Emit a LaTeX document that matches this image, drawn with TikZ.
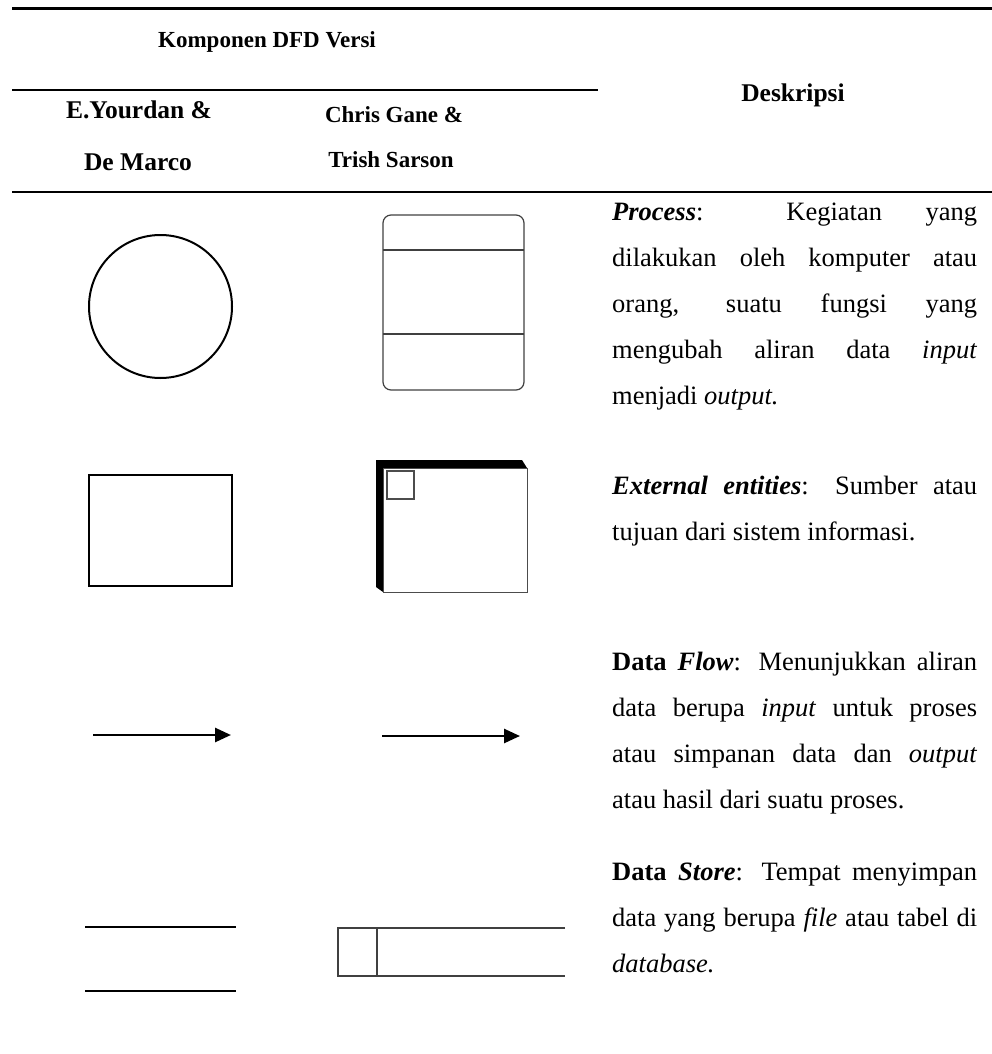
\documentclass[tikz,border=0pt]{standalone}
\usepackage{fontspec}
\setmainfont{Liberation Serif}
\usetikzlibrary{arrows.meta}

% a fully justified description line
\newcommand\jline[1]{\makebox[365pt][s]{#1}}

\begin{document}
\begin{tikzpicture}[x=1pt,y=-1pt,
  rule/.style={line width=2.4pt},
  hdrsmall/.style={font=\fontsize{23}{28}\selectfont\bfseries, anchor=base, inner sep=0},
  hdrbig/.style={font=\fontsize{25.5}{30}\selectfont\bfseries, anchor=base, inner sep=0},
  desc/.style={font=\fontsize{26.5}{30}\selectfont, anchor=base west, inner sep=0},
  thick symbol/.style={line width=2pt, draw=black},
  thin symbol/.style={line width=1.2pt, draw=black!75},
  flow/.style={line width=2.6pt, -{Triangle[length=16pt,width=14pt]}}
]
\useasboundingbox (0,0) rectangle (992,1054);

% ---- table rules
\coordinate (r1a) at (12,8.5);  \coordinate (r1b) at (992,8.5);
\coordinate (r2a) at (12,90);   \coordinate (r2b) at (598,90);
\coordinate (r3a) at (12,192);  \coordinate (r3b) at (992,192);
\draw[rule] (r1a) -- (r1b);
\draw[rule] (r2a) -- (r2b);
\draw[rule] (r3a) -- (r3b);

% ---- header
\node[hdrsmall] (komp) at (267,48) {Komponen DFD Versi};
\node[hdrbig] (yd1) at (139,118) {E.Yourdan \&};
\node[hdrbig] (yd2) at (138,170) {De Marco};
\node[hdrsmall] (gs1) at (394,122) {Chris Gane \&};
\node[hdrsmall] (gs2) at (391,167) {Trish Sarson};
\node[hdrbig] (desk) at (793,102) {Deskripsi};

% ---- process symbols
\draw[thick symbol] (160.5,306.5) circle[radius=71.5];
\draw[thin symbol, rounded corners=8pt] (383,215) rectangle (524,390);
\draw[thin symbol] (383,250) -- (524,250);
\draw[thin symbol] (383,334) -- (524,334);

% ---- external entity symbols
\draw[thick symbol] (89,475) rectangle (232,586);
\fill[black] (376,460) -- (522,460) -- (527,468) -- (383,468) -- (383,592) -- (376,587) -- cycle;
\draw[line width=1pt, draw=black!70] (383,468) rectangle (527,592);
\draw[line width=1.2pt, draw=black!70] (387,471) rectangle (414,499);

% ---- data flow symbols
\coordinate (fa1) at (93,735);  \coordinate (fa2) at (231,735);
\coordinate (fb1) at (382,736); \coordinate (fb2) at (520,736);
\draw[flow] (fa1) -- (fa2);
\draw[flow] (fb1) -- (fb2);

% ---- data store symbols
\draw[thick symbol] (85,927) -- (236,927);
\draw[thick symbol] (85,991) -- (236,991);
\draw[thin symbol] (565,928) -- (338,928) -- (338,976) -- (565,976);
\draw[thin symbol] (377,928) -- (377,976);

% ---- descriptions
\node[desc] (p1) at (612,220) {\jline{\textbf{\textit{Process}}: Kegiatan yang}};
\node[desc] (p2) at (612,266) {\jline{dilakukan oleh komputer atau}};
\node[desc] (p3) at (612,312) {\jline{orang, suatu fungsi yang}};
\node[desc] (p4) at (612,358) {\jline{mengubah aliran data \textit{input}}};
\node[desc] (p5) at (612,404) {menjadi \textit{output.}};

\node[desc] (e1) at (612,494) {\jline{\textbf{\textit{External entities}}: Sumber atau}};
\node[desc] (e2) at (612,540) {tujuan dari sistem informasi.};

\node[desc] (f1) at (612,670) {\jline{\textbf{Data \textit{Flow}}: Menunjukkan aliran}};
\node[desc] (f2) at (612,716) {\jline{data berupa \textit{input} untuk proses}};
\node[desc] (f3) at (612,762) {\jline{atau simpanan data dan \textit{output}}};
\node[desc] (f4) at (612,808) {atau hasil dari suatu proses.};

\node[desc] (s1) at (612,880) {\jline{\textbf{Data \textit{Store}}: Tempat menyimpan}};
\node[desc] (s2) at (612,926) {\jline{data yang berupa \textit{file} atau tabel di}};
\node[desc] (s3) at (612,972) {\textit{database.}};
\end{tikzpicture}
\end{document}
